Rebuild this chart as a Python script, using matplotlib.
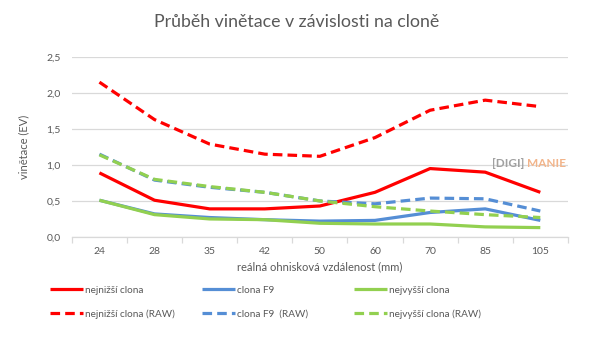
import matplotlib
matplotlib.use("Agg")
import matplotlib.pyplot as plt

# focal lengths (mm)
focal = ["24", "28", "35", "42", "50", "60", "70", "85", "105"]

low = [0.89, 0.51, 0.39, 0.39, 0.43, 0.62, 0.95, 0.90, 0.62]
f9 = [0.51, 0.32, 0.27, 0.24, 0.22, 0.23, 0.34, 0.39, 0.23]
high = [0.51, 0.31, 0.25, 0.24, 0.19, 0.18, 0.18, 0.14, 0.13]
low_raw = [2.15, 1.63, 1.29, 1.15, 1.12, 1.38, 1.76, 1.90, 1.81]
f9_raw = [1.15, 0.79, 0.69, 0.62, 0.50, 0.46, 0.54, 0.53, 0.36]
high_raw = [1.14, 0.80, 0.70, 0.62, 0.50, 0.42, 0.36, 0.31, 0.27]

RED = "#ff0000"
BLUE = "#558ed5"
GREEN = "#92d050"
GRAY = "#595959"

plt.rcParams['font.family'] = ['Lato', 'DejaVu Sans']

fig = plt.figure(figsize=(5.94, 3.39), dpi=100)
ax = fig.add_axes([0.121, 0.301, 0.835, 0.531])

x = list(range(len(focal)))
lw = 2.3
dash = (3, 1.6)

h1, = ax.plot(x, low, color=RED, lw=lw, label="nejnižší clona")
h2, = ax.plot(x, low_raw, color=RED, lw=lw, dashes=dash, label="nejnižší clona (RAW)")
h3, = ax.plot(x, f9, color=BLUE, lw=lw, label="clona F9")
h4, = ax.plot(x, f9_raw, color=BLUE, lw=lw, dashes=dash, label="clona F9  (RAW)")
h5, = ax.plot(x, high, color=GREEN, lw=lw, label="nejvyšší clona")
h6, = ax.plot(x, high_raw, color=GREEN, lw=lw, dashes=dash, label="nejvyšší clona (RAW)")
for l in ax.lines:
    l.set_solid_capstyle("butt")
    l.set_dash_capstyle("butt")

ax.set_xlim(-0.5, len(focal) - 0.5)
ax.set_ylim(0, 2.5)
ax.set_yticks([0, 0.5, 1.0, 1.5, 2.0, 2.5])
ax.set_yticklabels(["0,0", "0,5", "1,0", "1,5", "2,0", "2,5"])
ax.grid(True, axis="y", color="#d9d9d9", lw=0.9)
ax.set_axisbelow(True)

# tick marks between categories, labels centred
ax.set_xticks([i - 0.5 for i in range(len(focal) + 1)])
ax.set_xticklabels([])
ax.set_xticks(x, minor=True)
ax.set_xticklabels(focal, minor=True)
ax.tick_params(axis="x", which="major", length=4, color="#d9d9d9", width=0.9)
ax.tick_params(axis="x", which="minor", length=0, pad=7, labelsize=7.5, labelcolor=GRAY)
ax.tick_params(axis="y", length=0, pad=8, labelsize=7.5, labelcolor=GRAY)

for s in ["top", "right", "left"]:
    ax.spines[s].set_visible(False)
ax.spines["bottom"].set_color("#d9d9d9")
ax.spines["bottom"].set_linewidth(0.9)

ax.set_ylabel("vinětace (EV)", fontsize=8, color=GRAY, labelpad=12)
ax.set_xlabel("reálná ohnisková vzdálenost (mm)", fontsize=8, color=GRAY, labelpad=4)

fig.text(0.5, 0.935, "Průběh vinětace v závislosti na cloně", ha="center", va="center",
         fontsize=12.8, color=GRAY)

# watermark
fig.text(0.828, 0.519, "[DIGI]", fontsize=8.5, color="#a0a0a0", fontweight="bold", ha="left", va="center")
fig.text(0.888, 0.519, "MANIE", fontsize=8.5, color="#f2b48a", fontweight="bold", ha="left", va="center")

# legend: three equally spaced columns like Excel
pairs = [(h1, h2), (h3, h4), (h5, h6)]
for i, (a, b) in enumerate(pairs):
    fig.legend(handles=[a, b], loc="upper left",
               bbox_to_anchor=(0.075 + i * 0.256, 0.172), frameon=False, fontsize=7.2,
               handlelength=3.3, handletextpad=0.2, borderpad=0,
               labelspacing=1.45, labelcolor=GRAY)

fig.savefig("out.png", dpi=100)
